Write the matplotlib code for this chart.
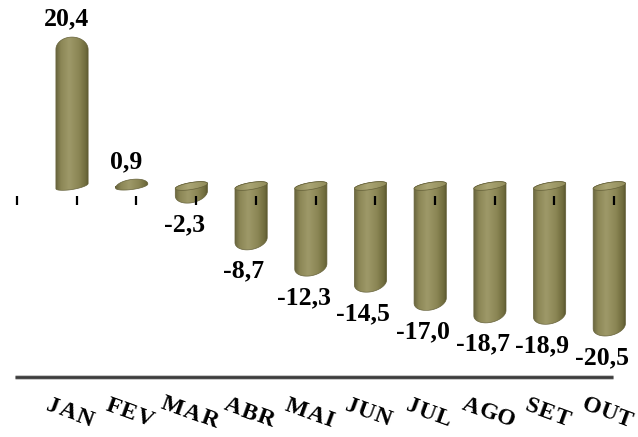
import matplotlib
matplotlib.use("Agg")
import matplotlib.pyplot as plt
import numpy as np
from matplotlib.patches import Polygon
from matplotlib.colors import LinearSegmentedColormap
from matplotlib.font_manager import FontProperties
from matplotlib.textpath import TextPath

months = ["JAN", "FEV", "MAR", "ABR", "MAI", "JUN", "JUL", "AGO", "SET", "OUT"]
values = [20.4, 0.9, -2.3, -8.7, -12.3, -14.5, -17.0, -18.7, -18.9, -20.5]

plt.rcParams['font.family'] = ['Liberation Serif', 'DejaVu Serif']

body_cmap = LinearSegmentedColormap.from_list("olive", [
    (0.0, "#6a663f"), (0.15, "#8c8756"), (0.4, "#9e9969"),
    (0.7, "#8b8654"), (0.92, "#6e6a3c"), (1.0, "#56532b")])
face_cmap = LinearSegmentedColormap.from_list("olive_top", [
    (0.0, "#8c8756"), (0.4, "#aaa574"), (1.0, "#918c5a")])

hw = 0.27      # half width of a cylinder
cap = 1.3      # height of the rounded end
dome = 1.7     # height of the rounded top of a rising bar
rim = 0.48     # half height of the elliptical rim at zero
tilt = 0.35    # perspective: left side sits lower than the right


def gradient_fill(ax, verts, x0, x1, cmap, z):
    poly = Polygon(verts, closed=True, facecolor="none",
                   edgecolor="#66623a", linewidth=0.5, zorder=z + 0.1)
    ax.add_patch(poly)
    ys = verts[:, 1]
    grad = np.linspace(0, 1, 64).reshape(1, -1)
    im = ax.imshow(grad, cmap=cmap, extent=[x0, x1, ys.min(), ys.max()],
                   aspect="auto", interpolation="bicubic", zorder=z)
    im.set_clip_path(poly)


def cylinder(ax, xc, v):
    t_dn = np.linspace(0, -np.pi, 40)
    if v >= 0:
        c = min(dome, v)
        s = tilt if v > 2 else tilt * 0.8
        left = [(xc - hw, -s), (xc - hw, v - c)]
        top = [(xc + hw * np.cos(t), v - c + c * np.sin(t)) for t in np.linspace(np.pi, 0, 40)]
        if v < 2:
            top = [(xc + hw * np.cos(t), v - c + c * np.sin(t) + s * np.cos(t))
                   for t in np.linspace(np.pi, 0, 40)]
        right = [(xc + hw, s)]
        base = [(xc + hw * np.cos(t), rim * np.sin(t) + s * np.cos(t)) for t in t_dn]
        verts = np.array(left + top + right + base)
        gradient_fill(ax, verts, xc - hw, xc + hw, body_cmap, 2)
    else:
        c = min(cap, -v)
        t_bot = np.linspace(np.pi, 2 * np.pi, 40)
        left = [(xc - hw, -tilt), (xc - hw, v + c - tilt)]
        bottom = [(xc + hw * np.cos(t), v + c + c * np.sin(t) + tilt * np.cos(t)) for t in t_bot]
        right = [(xc + hw, tilt)]
        top = [(xc + hw * np.cos(t), rim * np.sin(t) + tilt * np.cos(t)) for t in np.linspace(0, np.pi, 40)]
        verts = np.array(left + bottom + right + top)
        gradient_fill(ax, verts, xc - hw, xc + hw, body_cmap, 2)
        t = np.linspace(0, 2 * np.pi, 80)
        face = np.column_stack([xc + hw * np.cos(t), rim * np.sin(t) + tilt * np.cos(t)])
        gradient_fill(ax, face, xc - hw, xc + hw, face_cmap, 3)


fig = plt.figure(figsize=(6.38, 4.37), dpi=100)
ax = fig.add_axes([0, 0, 1, 1])
ax.set_axis_off()

x = np.arange(len(values))
for xi, v in zip(x, values):
    cylinder(ax, xi, v)
    label = f"{v:.1f}".replace(".", ",")
    if v >= 0:
        ax.text(xi - 0.1, v + 0.9, label, ha="center", va="bottom",
                fontsize=18.5, fontweight="bold", zorder=6)
    else:
        ax.text(xi - 0.12, v - 1.4, label, ha="center", va="top",
                fontsize=18.5, fontweight="bold", zorder=6)

# category tick marks on the front plane
tick_x = np.arange(-1, len(values)) + 0.08
ax.vlines(tick_x, -2.6, -1.37, color="black", linewidth=1.6, zorder=5)

# base line
ax.plot([-0.955, 9.06], [-26.2, -26.2], color="#c8c8c8", linewidth=3.6,
        solid_capstyle="butt", zorder=1)
ax.plot([-0.955, 9.06], [-26.2, -26.2], color="#3c3c3c", linewidth=2.0,
        solid_capstyle="butt", zorder=1)

# month names set as tilted word art, one letter at a time
month_size = 17
fp = FontProperties(family="Liberation Serif", weight="bold", size=month_size)
ang = np.deg2rad(20)
gap = 1.5
for xi, name in zip(x, months):
    widths = [TextPath((0, 0), ch, size=month_size, prop=fp).get_extents().width
              for ch in name]
    centers = []
    pos = 0.0
    for k, w in enumerate(widths):
        centers.append(pos + w / 2)
        pos += w + gap
    mid = (pos - gap) / 2
    for ch, c in zip(name, centers):
        d = c - mid
        ax.annotate(ch, xy=(xi - 0.03, -31.1), xytext=(d * np.cos(ang), -d * np.sin(ang)),
                    textcoords="offset points", ha="center", va="center",
                    rotation=-20, fontproperties=fp, zorder=6)

ax.set_xlim(-1.206, 9.481)
ax.set_ylim(-34.38, 25.48)

fig.savefig("out.png", dpi=100)
